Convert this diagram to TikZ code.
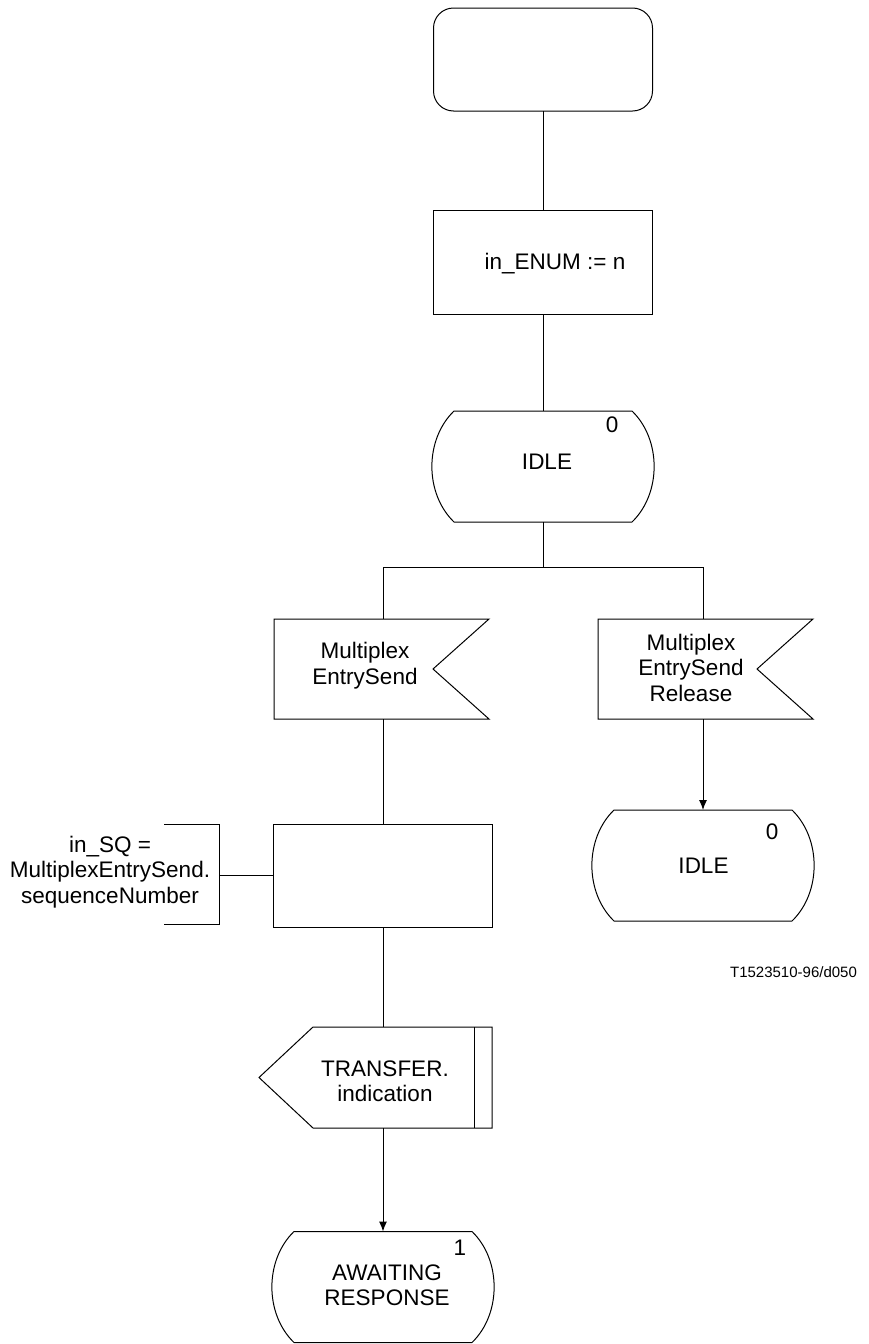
\documentclass[tikz,border=0pt]{standalone}
\usepackage{fontspec}
\setmainfont{Liberation Sans}
\usetikzlibrary{arrows.meta}
\newcommand\stateoutline[1]{\draw[shift={(#1.center)}] (-89,-55.5) -- (89,-55.5) .. controls (118.5,-27) and (118.5,27) .. (89,55.5) -- (-89,55.5) .. controls (-118.5,27) and (-118.5,-27) .. (-89,-55.5) -- cycle;}
\begin{document}
\begin{tikzpicture}[x=1pt,y=-1pt,line width=1pt,
  ph/.style={inner sep=0pt,outer sep=0pt},
  boxnode/.style={draw,inner sep=0pt,outer sep=0pt,minimum width=219pt},
  txt/.style={inner sep=0pt,align=center,font=\fontsize{22.5}{25.5}\selectfont},
  small/.style={inner sep=0pt,font=\fontsize{15}{18}\selectfont},
  arr/.style={-{Latex[length=10pt,width=8pt]}}]
\useasboundingbox (0,0) rectangle (868,1344);
% start
\node[boxnode,rounded corners=20pt,minimum height=103pt] (start) at (543,59.5) {};
% task 1
\node[boxnode,minimum height=104pt] (task1) at (543,262) {};
\node[txt] (t-task1) at (555,264) {in\_ENUM := n};
% idle 1
\node[ph,minimum width=221pt,minimum height=111pt] (idle1) at (543,466.5) {};
\stateoutline{idle1}
\node[txt] (t-idle1) at (547,461.5) {IDLE};
\node[txt] (n-idle1) at (612,424.5) {0};
% branch
\coordinate (br) at (543,567);
% input 1
\node[ph,minimum width=216pt,minimum height=100pt] (in1) at (383,669) {};
\draw[shift={(in1.center)}] (-109,-50) -- (106,-50) -- (50,0) -- (106,50) -- (-109,50) -- cycle;
\node[txt] (t-in1) at (365,665.5) {Multiplex\\EntrySend};
% input 2
\node[ph,minimum width=216pt,minimum height=100pt] (in2) at (703,669) {};
\draw[shift={(in2.center)}] (-105,-50) -- (110,-50) -- (54,0) -- (110,50) -- (-105,50) -- cycle;
\node[txt] (t-in2) at (691,667.5) {Multiplex\\EntrySend\\Release};
% idle 2
\node[ph,minimum width=221pt,minimum height=111pt] (idle2) at (703,865.5) {};
\stateoutline{idle2}
\node[txt] (t-idle2) at (703.5,865.5) {IDLE};
\node[txt] (n-idle2) at (772,832) {0};
% task 2
\node[boxnode,minimum height=103pt] (task2) at (383,875.5) {};
% comment
\node[ph,minimum width=55pt,minimum height=100pt] (comment) at (191.5,874) {};
\draw (comment.north west) -- (comment.north east) -- (comment.south east) -- (comment.south west);
\node[txt] (t-comment) at (110,872) {in\_SQ =\\MultiplexEntrySend.\\sequenceNumber};
% output
\node[ph,minimum width=218pt,minimum height=101pt] (out) at (383,1077.5) {};
\draw[shift={(out.center)}] (-70,-50.5) -- (109,-50.5) -- (109,50.5) -- (-70,50.5) -- (-124,0) -- cycle;
\draw[shift={(out.center)}] (91,-50.5) -- (91,50.5);
\node[txt] (t-out) at (385,1081) {TRANSFER.\\indication};
% awaiting
\node[ph,minimum width=221pt,minimum height=111pt] (await) at (383,1287) {};
\stateoutline{await}
\node[txt] (t-await) at (387,1285) {AWAITING\\RESPONSE};
\node[txt] (n-await) at (460,1248) {1};
% label
\node[small] (lbl) at (793.5,972.5) {T1523510-96/d050};
% connectors
\draw (start.south) -- (task1.north);
\draw (task1.south) -- (idle1.north);
\draw (idle1.south) -- (br);
\draw (br) -| (in1.north);
\draw (br) -| (in2.north);
\draw[arr] (in2.south) -- (idle2.north);
\draw (in1.south) -- (task2.north);
\draw (task2.west) -- (task2.west -| comment.east);
\draw (task2.south) -- (out.north);
\draw[arr] (out.south) -- (await.north);
\end{tikzpicture}
\end{document}
